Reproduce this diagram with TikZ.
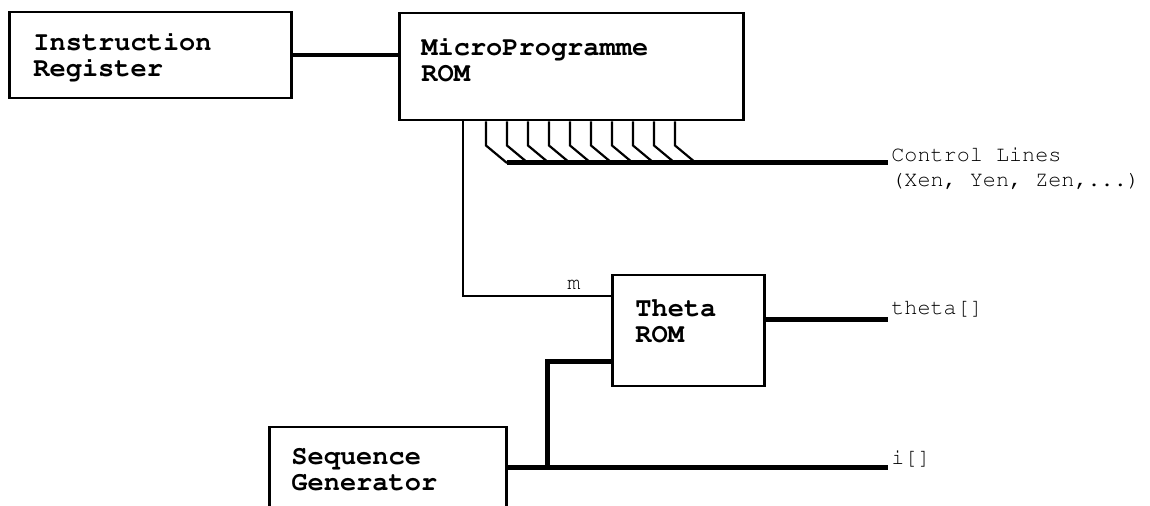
\documentclass[tikz,border=0pt]{standalone}
\usepackage[T1]{fontenc}
\usetikzlibrary{calc}
\newcommand{\courfont}{\fontencoding{T1}\fontfamily{pcr}\selectfont}
\tikzset{
  blk/.style={draw, line width=1.25pt, rectangle, inner sep=0pt, anchor=north west},
  blktext/.style={font=\courfont\bfseries\fontsize{13.5}{13}\selectfont, align=left, inner sep=0pt, anchor=base west},
  sidetext/.style={font=\courfont\fontsize{10.9}{12.5}\selectfont, align=left, inner sep=0pt, anchor=base west},
  thinwire/.style={line width=1pt},
  stubwire/.style={line width=1.1pt},
  thickwire/.style={line width=2.5pt},
  midwire/.style={line width=2pt}
}
\begin{document}
\begin{tikzpicture}[x=0.5pt,y=-0.5pt]
\useasboundingbox (0,0) rectangle (1150,506);
\clip (0,0) rectangle (1150,506);
% boxes
\node[blk, minimum width=141pt, minimum height=43pt] (ir) at (8,11) {};
\node[blk, minimum width=172pt, minimum height=53.5pt] (mp) at (398,12) {};
\node[blk, minimum width=76pt, minimum height=55.5pt] (th) at (611,274) {};
\node[blk, minimum width=118.5pt, minimum height=60pt] (sg) at (268,426) {};
% box texts (anchor = baseline of last line)
\node[blktext] (irt) at (33,77) {Instruction\\Register};
\node[blktext] (mpt) at (421,82) {MicroProgramme\\ROM};
\node[blktext] (tht) at (635,343) {Theta\\ROM};
\node[blktext] (sgt) at (291,491) {Sequence\\Generator};
% helper coordinates
\coordinate (clout) at (888,163);
\coordinate (thout) at (888,320);
\coordinate (iout) at (888,468);
\coordinate (mj) at (463,296);
\coordinate (tj) at (547,362);
\coordinate (j) at (547,468);
% IR -> MP
\draw[midwire] (ir.east) -- (ir.east -| mp.west);
% MP -> Theta (m)
\draw[thinwire] (mp.south -| mj) -- (mj) -- (th.west |- mj);
\node[sidetext] (mlab) at (567,290) {m};
% control line stubs
\foreach \i in {0,...,9}{
  \draw[stubwire] ([xshift=44pt+10.5pt*\i]mp.south west) -- ++(0,-12pt) -- ([xshift=54.5pt+10.5pt*\i]mp.south west |- clout);
}
\draw[thickwire] ([xshift=54.5pt]mp.south west |- clout) -- (clout);
\node[sidetext] (cllab) at (891,187) {Control Lines\\(Xen, Yen, Zen,...)};
% Theta -> theta[]
\draw[thickwire] (th.east |- thout) -- (thout);
\node[sidetext] (thlab) at (891,315) {theta[]};
% SG -> i[] and Theta
\draw[thickwire] (sg.east |- iout) -- (iout);
\draw[thickwire] (th.west |- tj) -- (tj) -- (j);
\node[sidetext] (ilab) at (891,465) {i[]};
\end{tikzpicture}
\end{document}
